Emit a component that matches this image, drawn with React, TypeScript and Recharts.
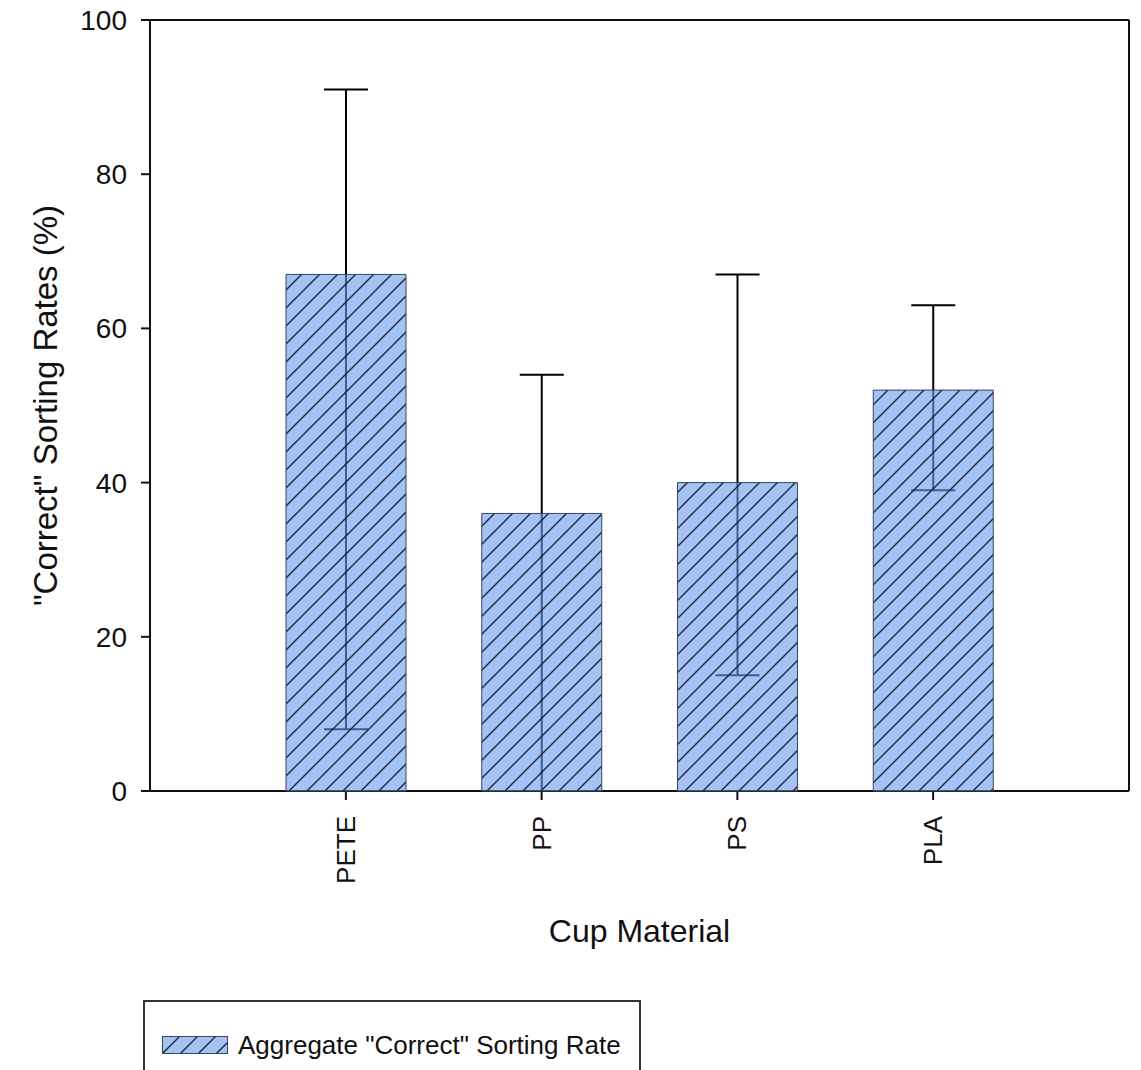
import React from 'react';
import { BarChart, Bar, XAxis, YAxis, ErrorBar, Label } from 'recharts';

const materials = ['PETE', 'PP', 'PS', 'PLA'];
const sortingRate = [67, 36, 40, 52];
const rangeLow = [8, 0, 15, 39];
const rangeHigh = [91, 54, 67, 63];
const yTicks = [0, 20, 40, 60, 80, 100];

const chartData = materials.map((m, i) => ({
  material: m,
  rate: sortingRate[i],
  err: [sortingRate[i] - rangeLow[i], rangeHigh[i] - sortingRate[i]],
}));

const FONT = '"Liberation Sans", Arial, sans-serif';
const INK = '#111';

const HatchPattern = ({ id }: { id: string }) => (
  <pattern id={id} patternUnits="userSpaceOnUse" width={18} height={18}>
    <rect width={18} height={18} fill="#6799ed" fillOpacity={0.6} />
    <path
      d="M0,18 L18,0 M-4.5,4.5 L4.5,-4.5 M13.5,22.5 L22.5,13.5"
      stroke="#1c2438"
      strokeWidth={1.4}
    />
  </pattern>
);

const RotatedTick = (props: any) => {
  const { x, y, payload } = props;
  return (
    <text
      x={x}
      y={y}
      transform={`rotate(-90 ${x} ${y})`}
      textAnchor="end"
      dominantBaseline="central"
      fontFamily={FONT}
      fontSize={26}
      fill={INK}
    >
      {payload.value}
    </text>
  );
};

const App = () => {
  return (
    <div style={{ position: 'absolute', left: 0, top: 0, width: 1141, height: 1070, background: '#fff' }}>
      <BarChart
        width={1141}
        height={960}
        data={chartData}
        margin={{ top: 19, right: 11, left: 0, bottom: 18 }}
      >
        <defs>
          <HatchPattern id="barHatch" />
        </defs>
        {/* frame: top + right */}
        <XAxis
          xAxisId="top"
          orientation="top"
          dataKey="material"
          height={1}
          tick={false}
          tickLine={false}
          axisLine={{ stroke: INK, strokeWidth: 2 }}
          padding={{ left: 98, right: 98 }}
        />
        <YAxis
          yAxisId="right"
          orientation="right"
          width={1}
          domain={[0, 100]}
          tick={false}
          tickLine={false}
          axisLine={{ stroke: INK, strokeWidth: 2 }}
        />
        <XAxis
          xAxisId="bottom"
          dataKey="material"
          height={151}
          tick={<RotatedTick />}
          tickSize={9}
          tickMargin={16}
          tickLine={{ stroke: INK, strokeWidth: 2 }}
          axisLine={{ stroke: INK, strokeWidth: 2 }}
          padding={{ left: 98, right: 98 }}
        >
          <Label
            value="Cup Material"
            position="insideBottom"
            offset={0}
            style={{ fontFamily: FONT, fontSize: 32, fill: INK }}
          />
        </XAxis>
        <YAxis
          yAxisId="left"
          width={150}
          domain={[0, 100]}
          ticks={yTicks}
          tickSize={9}
          tickMargin={14}
          tick={{ fontFamily: FONT, fontSize: 28, fill: INK }}
          tickLine={{ stroke: INK, strokeWidth: 2 }}
          axisLine={{ stroke: INK, strokeWidth: 2 }}
        >
          <Label
            value={'"Correct" Sorting Rates (%)'}
            angle={-90}
            position="insideLeft"
            offset={45}
            style={{ fontFamily: FONT, fontSize: 33, fill: INK, textAnchor: 'middle' }}
          />
        </YAxis>

        {/* error ranges sit under the (translucent) bars */}
        <Bar
          dataKey="rate"
          xAxisId="top"
          yAxisId="right"
          fill="none"
          barSize={120}
          isAnimationActive={false}
          zIndex={200}
        >
          <ErrorBar dataKey="err" direction="y" width={22} stroke="#000" strokeWidth={2} zIndex={200} />
        </Bar>
        <Bar
          dataKey="rate"
          name={'Aggregate "Correct" Sorting Rate'}
          xAxisId="bottom"
          yAxisId="left"
          fill="url(#barHatch)"
          stroke="#3a4560"
          strokeWidth={1}
          barSize={120}
          isAnimationActive={false}
          zIndex={600}
        />
      </BarChart>

      {/* Legend */}
      <div
        style={{
          position: 'absolute',
          left: 143,
          top: 1000,
          width: 498,
          height: 90,
          border: '2px solid #333',
          boxSizing: 'border-box',
          display: 'flex',
          alignItems: 'flex-start',
          paddingLeft: 17,
          paddingTop: 28,
        }}
      >
        <svg width={66} height={18} style={{ marginTop: 6 }}>
          <defs>
            <HatchPattern id="legendHatch" />
          </defs>
          <rect x={0.5} y={0.5} width={65} height={17} fill="url(#legendHatch)" stroke="#3a4560" />
        </svg>
        <span style={{ fontFamily: FONT, fontSize: 26, color: INK, marginLeft: 10, lineHeight: '30px' }}>
          Aggregate "Correct" Sorting Rate
        </span>
      </div>
    </div>
  );
};

export default App;
